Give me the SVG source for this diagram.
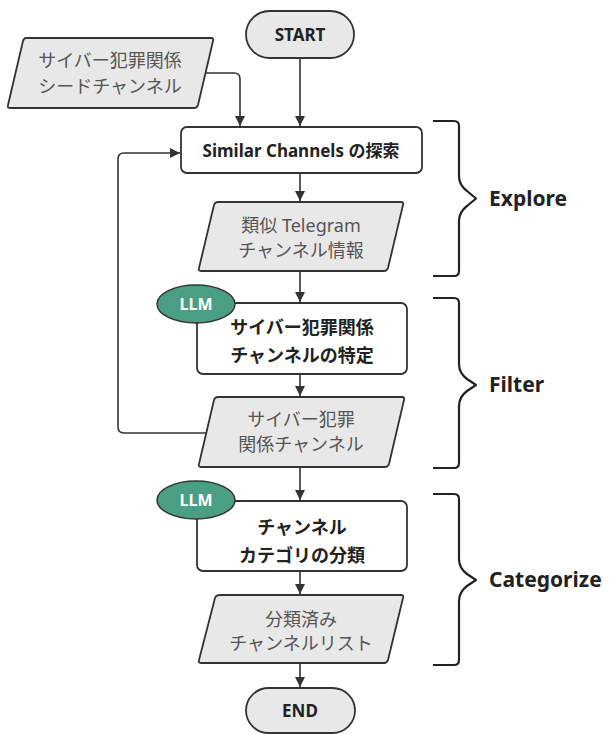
<svg xmlns="http://www.w3.org/2000/svg" width="612" height="734" viewBox="0 0 612 734">
<defs>
<style>
.term{fill:#e8e8e8;stroke:#333;stroke-width:1.8}
.data{fill:#e8e8e8;stroke:#333;stroke-width:1.8;stroke-linejoin:round}
.proc{fill:#fff;stroke:#333;stroke-width:1.8}
.llm{fill:#4a9e84;stroke:#333;stroke-width:1.5}
.t{font-family:"Noto Sans","Noto Sans CJK JP",sans-serif;text-anchor:middle}
.tb{font-weight:bold;fill:#222;font-size:18px}
.tg{fill:#555;font-size:18px}
.tl{font-weight:bold;fill:#fff;font-size:16px}
.edge{fill:none;stroke:#333;stroke-width:1.6}
.brace{fill:none;stroke:#222;stroke-width:2.2;stroke-linejoin:round}
.lab{font-family:"Noto Sans",sans-serif;font-weight:bold;font-size:21px;fill:#222}
</style>
<marker id="ah" viewBox="0 0 10 10" refX="10" refY="5" markerWidth="10" markerHeight="10" markerUnits="userSpaceOnUse" orient="auto">
<path d="M0,0 L10,5 L0,10 z" fill="#333"/>
</marker>
</defs>

<g id="connectors">
<path class="edge" d="M300,58 V126" marker-end="url(#ah)"/>
<path class="edge" d="M205,73 H234 Q240,73 240,79 V126" marker-end="url(#ah)"/>
<path class="edge" d="M300,173 V201" marker-end="url(#ah)"/>
<path class="edge" d="M300,271 V302" marker-end="url(#ah)"/>
<path class="edge" d="M300,374 V396" marker-end="url(#ah)"/>
<path class="edge" d="M206,433 H124 Q118,433 118,427 V159 Q118,153 124,153 H180" marker-end="url(#ah)"/>
<path class="edge" d="M300,467 V500" marker-end="url(#ah)"/>
<path class="edge" d="M300,571 V594" marker-end="url(#ah)"/>
<path class="edge" d="M300,663 V687" marker-end="url(#ah)"/>
</g>

<g id="start">
<rect class="term" x="246" y="11" width="108" height="47" rx="23.5"/>
<text class="t tb" x="300" y="41" style="font-size:17px">START</text>
</g>

<g id="seed">
<path class="data" d="M26,38 H211 Q214,38 213,41 L198,105 Q197,108 194,108 H10 Q7,108 8,105 L23,41 Q24,38 26,38 Z"/>
<text class="t tg" x="110" y="67">サイバー犯罪関係</text>
<text class="t tg" x="110" y="93">シードチャンネル</text>
</g>

<g id="explore">
<rect class="proc" x="181" y="127" width="241" height="46" rx="6"/>
<text class="t tb" x="301" y="157" style="font-size:17px">Similar Channels の探索</text>
</g>

<g id="similar">
<path class="data" d="M218,202 H401 Q404,202 403,205 L388,268 Q387,271 384,271 H201 Q198,271 199,268 L214,205 Q215,202 218,202 Z"/>
<text class="t tg" x="301" y="232">類似 Telegram</text>
<text class="t tg" x="301" y="257">チャンネル情報</text>
</g>

<g id="identify">
<rect class="proc" x="197" y="303" width="210" height="71" rx="6"/>
<text class="t tb" x="302" y="334">サイバー犯罪関係</text>
<text class="t tb" x="302" y="362">チャンネルの特定</text>
<ellipse class="llm" cx="196" cy="304" rx="39" ry="19"/>
<text class="t tl" x="196" y="310">LLM</text>
</g>

<g id="cyber">
<path class="data" d="M218,397 H402 Q405,397 404,400 L389,464 Q388,467 385,467 H201 Q198,467 199,464 L214,400 Q215,397 218,397 Z"/>
<text class="t tg" x="301" y="426">サイバー犯罪</text>
<text class="t tg" x="301" y="451">関係チャンネル</text>
</g>

<g id="classify">
<rect class="proc" x="197" y="501" width="210" height="70" rx="6"/>
<text class="t tb" x="302" y="534">チャンネル</text>
<text class="t tb" x="302" y="562">カテゴリの分類</text>
<ellipse class="llm" cx="196" cy="500" rx="39" ry="19"/>
<text class="t tl" x="196" y="506">LLM</text>
</g>

<g id="classified">
<path class="data" d="M220,595 H401 Q404,595 403,598 L388,660 Q387,663 384,663 H201 Q198,663 199,660 L215,598 Q216,595 220,595 Z"/>
<text class="t tg" x="301" y="626">分類済み</text>
<text class="t tg" x="301" y="650">チャンネルリスト</text>
</g>

<g id="end">
<rect class="term" x="246" y="688" width="109" height="45" rx="22.5"/>
<text class="t tb" x="300" y="717" style="font-size:17px">END</text>
</g>

<g id="brace-explore">
<path class="brace" d="M433,121 H454 Q459,121 459,126 V176 Q459,185 467,191 L476,198.5 L467,206 Q459,212 459,221 V271 Q459,276 454,276 H433"/>
<text class="lab" x="489" y="206">Explore</text>
</g>

<g id="brace-filter">
<path class="brace" d="M433,298 H454 Q459,298 459,303 V364 Q459,373 467,379 L476,385 L467,391 Q459,397 459,406 V463 Q459,468 454,468 H433"/>
<text class="lab" x="489" y="392">Filter</text>
</g>

<g id="brace-categorize">
<path class="brace" d="M433,494 H454 Q459,494 459,499 V559 Q459,568 467,574 L476,580 L467,586 Q459,592 459,601 V660 Q459,665 454,665 H433"/>
<text class="lab" x="489" y="587">Categorize</text>
</g>
</svg>
